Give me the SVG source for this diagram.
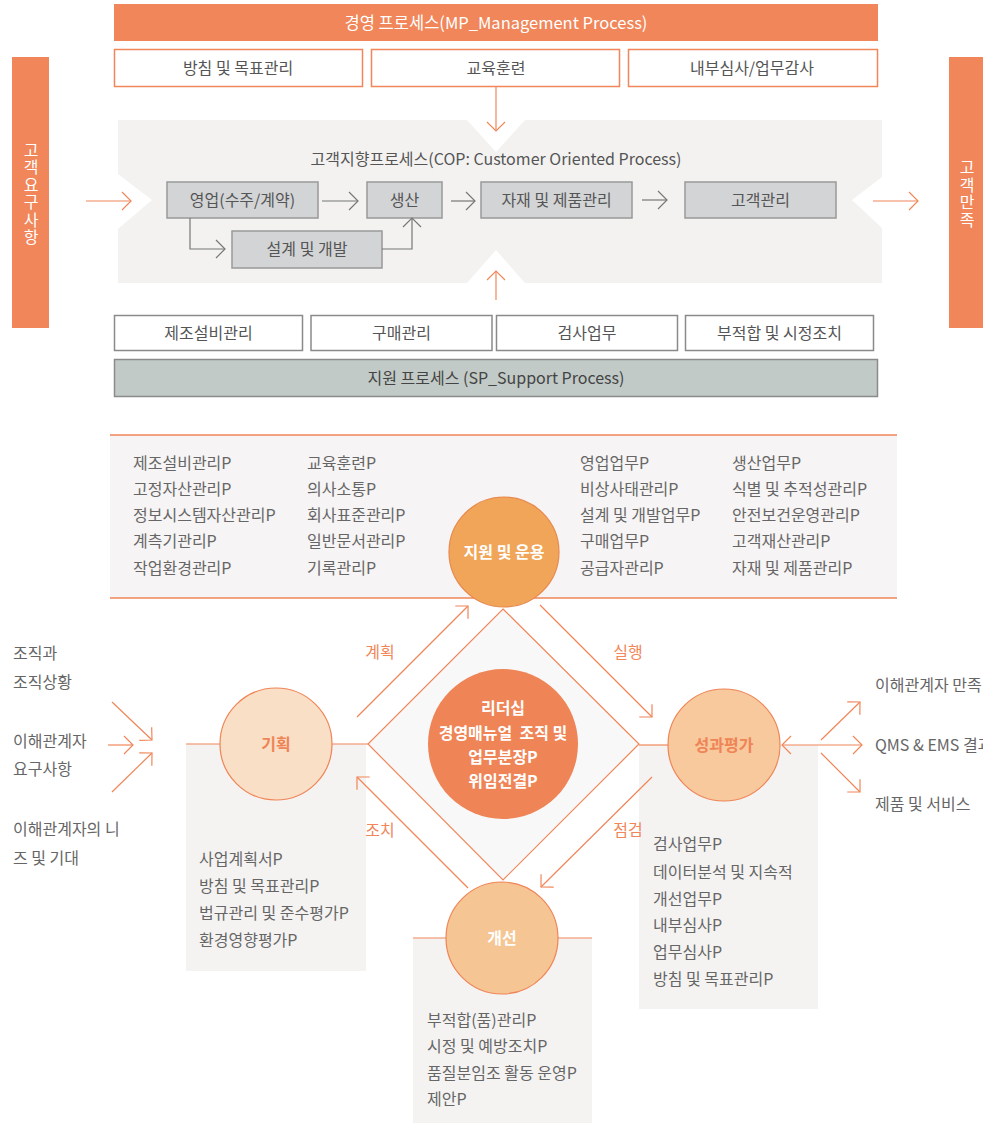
<svg xmlns="http://www.w3.org/2000/svg" width="983" height="1123" viewBox="0 0 983 1123">
<defs>
<style>
text{font-family:"Noto Sans CJK KR","Noto Sans",sans-serif;}
.t{font-size:16px;fill:#666;}
.tc{font-size:16px;fill:#555;text-anchor:middle;}
.w{font-size:17px;fill:#fff;text-anchor:middle;}
.v{font-size:16px;fill:#fff;text-anchor:middle;writing-mode:vertical-rl;letter-spacing:1.5px;}
.lbl{font-size:16px;fill:#f08659;text-anchor:middle;}
.cb{font-size:16px;font-weight:bold;text-anchor:middle;}
.obox{fill:#fff;stroke:#f08659;stroke-width:1.5;}
.gbox{fill:#fff;stroke:#8a8a8a;stroke-width:1.5;}
.cop{fill:#d3d4d6;stroke:#999;stroke-width:1.5;}
.oline{stroke:#f08659;stroke-width:1.2;fill:none;}
.gline{stroke:#777;stroke-width:1.2;fill:none;}
.panel{fill:#f4f3f2;}
</style>
<marker id="ao" viewBox="-12 -12 24 24" refX="0" refY="0" markerWidth="24" markerHeight="24" markerUnits="userSpaceOnUse" orient="auto-start-reverse">
<path d="M-9,-9 L0,0 L-9,9" fill="none" stroke="#f08659" stroke-width="1.2"/>
</marker>
<marker id="ag" viewBox="-12 -12 24 24" refX="0" refY="0" markerWidth="24" markerHeight="24" markerUnits="userSpaceOnUse" orient="auto">
<path d="M-9,-9 L0,0 L-9,9" fill="none" stroke="#777" stroke-width="1.2"/>
</marker>
</defs>

<!-- Top management process -->
<g id="mp-bar">
<rect x="114" y="4" width="764" height="37" fill="#f08659"/>
<text class="w" x="496" y="29" style="font-size:16.5px">경영 프로세스(MP_Management Process)</text>
</g>
<g id="mp-1"><rect class="obox" x="114.5" y="49.5" width="248" height="37"/><text class="tc" x="238" y="74">방침 및 목표관리</text></g>
<g id="mp-2"><rect class="obox" x="371.5" y="49.5" width="248" height="37"/><text class="tc" x="496" y="74">교육훈련</text></g>
<g id="mp-3"><rect class="obox" x="628.5" y="49.5" width="249" height="37"/><text class="tc" x="752" y="74">내부심사/업무감사</text></g>

<g id="customer-req">
<rect x="12" y="57" width="37" height="271" fill="#f08659"/>
<text class="v" x="31" y="194">고객요구사항</text>
</g>
<g id="customer-sat">
<rect x="949" y="57" width="34" height="271" fill="#f08659"/>
<text class="v" x="967" y="194">고객만족</text>
</g>

<g id="cop-region">
<path d="M118,120 L467,120 L496,152 L525,120 L882,120 L882,177 L852,200 L882,228 L882,283 L525,283 L496,250 L467,283 L118,283 L118,229 L152,200 L118,174 Z" fill="#f3f2f1"/>
<text class="tc" x="496" y="165">고객지향프로세스(COP: Customer Oriented Process)</text>
</g>
<g id="cop-sales"><rect class="cop" x="167" y="182" width="151" height="36"/><text class="tc" x="242.5" y="206">영업(수주/계약)</text></g>
<g id="cop-prod"><rect class="cop" x="367" y="182" width="75" height="36"/><text class="tc" x="404.5" y="206">생산</text></g>
<g id="cop-mat"><rect class="cop" x="481" y="182" width="151" height="36"/><text class="tc" x="556.5" y="206">자재 및 제품관리</text></g>
<g id="cop-cust"><rect class="cop" x="685" y="182" width="151" height="36"/><text class="tc" x="760.5" y="206">고객관리</text></g>
<g id="cop-design"><rect class="cop" x="232" y="231" width="150" height="37"/><text class="tc" x="307" y="255">설계 및 개발</text></g>

<!-- Support process -->
<g id="sp-1"><rect class="gbox" x="114.5" y="315.5" width="188" height="35"/><text class="tc" x="208.5" y="339">제조설비관리</text></g>
<g id="sp-2"><rect class="gbox" x="311" y="315.5" width="181" height="35"/><text class="tc" x="401.5" y="339">구매관리</text></g>
<g id="sp-3"><rect class="gbox" x="496.5" y="315.5" width="181" height="35"/><text class="tc" x="587" y="339">검사업무</text></g>
<g id="sp-4"><rect class="gbox" x="685.5" y="315.5" width="188" height="35"/><text class="tc" x="779.5" y="339">부적합 및 시정조치</text></g>
<g id="sp-bar"><rect x="114.5" y="359.5" width="763" height="37" fill="#c2cac7" stroke="#8a8a8a" stroke-width="1.5"/><text class="tc" x="496" y="384" style="fill:#444">지원 프로세스 (SP_Support Process)</text></g>

<!-- Middle panel -->
<g id="support-panel">
<rect x="110" y="435" width="787" height="163" fill="#f6f4f4"/>
<line x1="110" y1="435" x2="897" y2="435" stroke="#f08659" stroke-width="1.5"/>
<line x1="110" y1="598" x2="897" y2="598" stroke="#f08659" stroke-width="1.5"/>
<text class="t"><tspan x="133" y="469">제조설비관리P</tspan><tspan x="133" y="495">고정자산관리P</tspan><tspan x="133" y="521">정보시스템자산관리P</tspan><tspan x="133" y="547">계측기관리P</tspan><tspan x="133" y="574">작업환경관리P</tspan></text>
<text class="t"><tspan x="307" y="469">교육훈련P</tspan><tspan x="307" y="495">의사소통P</tspan><tspan x="307" y="521">회사표준관리P</tspan><tspan x="307" y="547">일반문서관리P</tspan><tspan x="307" y="574">기록관리P</tspan></text>
<text class="t"><tspan x="580" y="469">영업업무P</tspan><tspan x="580" y="495">비상사태관리P</tspan><tspan x="580" y="521">설계 및 개발업무P</tspan><tspan x="580" y="547">구매업무P</tspan><tspan x="580" y="574">공급자관리P</tspan></text>
<text class="t"><tspan x="732" y="469">생산업무P</tspan><tspan x="732" y="495">식별 및 추적성관리P</tspan><tspan x="732" y="521">안전보건운영관리P</tspan><tspan x="732" y="547">고객재산관리P</tspan><tspan x="732" y="574">자재 및 제품관리P</tspan></text>
</g>

<g id="plan-panel">
<rect class="panel" x="186" y="744" width="180" height="227"/>
<text class="t"><tspan x="199" y="865">사업계획서P</tspan><tspan x="199" y="892">방침 및 목표관리P</tspan><tspan x="199" y="919">법규관리 및 준수평가P</tspan><tspan x="199" y="946">환경영향평가P</tspan></text>
</g>
<g id="eval-panel">
<rect class="panel" x="639" y="745" width="179" height="264"/>
<text class="t"><tspan x="653" y="850">검사업무P</tspan><tspan x="653" y="878">데이터분석 및 지속적</tspan><tspan x="653" y="905">개선업무P</tspan><tspan x="653" y="931">내부심사P</tspan><tspan x="653" y="958">업무심사P</tspan><tspan x="653" y="985">방침 및 목표관리P</tspan></text>
</g>
<g id="improve-panel">
<rect class="panel" x="413" y="938" width="179" height="185"/>
<text class="t"><tspan x="427" y="1026">부적합(품)관리P</tspan><tspan x="427" y="1052">시정 및 예방조치P</tspan><tspan x="427" y="1079">품질분임조 활동 운영P</tspan><tspan x="427" y="1105">제안P</tspan></text>
</g>

<g id="diamond">
<path d="M503,609 L639,744 L503,880 L368,744 Z" fill="#f8f8f8" stroke="#f08659" stroke-width="1.2"/>
</g>

<g id="connectors">
<!-- top section -->
<line class="oline" x1="86" y1="201" x2="131" y2="201" marker-end="url(#ao)"/>
<line class="oline" x1="873" y1="201" x2="918" y2="201" marker-end="url(#ao)"/>
<line class="oline" x1="496" y1="87" x2="496" y2="131" marker-end="url(#ao)"/>
<line class="oline" x1="496" y1="300" x2="496" y2="271" marker-end="url(#ao)"/>
<line class="gline" x1="322" y1="201" x2="358" y2="201" marker-end="url(#ag)"/>
<line class="gline" x1="451" y1="201" x2="475" y2="201" marker-end="url(#ag)"/>
<line class="gline" x1="642" y1="200" x2="667" y2="200" marker-end="url(#ag)"/>
<polyline class="gline" points="190,218 190,249 225,249" marker-end="url(#ag)"/>
<polyline class="gline" points="382,249 412,249 412,218" marker-end="url(#ag)"/>
<!-- cycle -->
<line class="oline" x1="186" y1="744" x2="221" y2="744"/>
<line class="oline" x1="331" y1="744" x2="368" y2="744"/>
<line class="oline" x1="639" y1="745" x2="668" y2="745"/>
<line class="oline" x1="413" y1="938" x2="446" y2="938"/>
<line class="oline" x1="558" y1="938" x2="592" y2="938"/>
<line class="oline" x1="357" y1="717" x2="468" y2="606" marker-end="url(#ao)"/>
<line class="oline" x1="540" y1="605" x2="652" y2="717" marker-end="url(#ao)"/>
<line class="oline" x1="652" y1="777" x2="541" y2="887" marker-end="url(#ao)"/>
<line class="oline" x1="468" y1="888" x2="357" y2="777" marker-end="url(#ao)"/>
<!-- inputs -->
<line class="oline" x1="112" y1="702" x2="152" y2="740" marker-end="url(#ao)"/>
<line class="oline" x1="108" y1="745" x2="133" y2="745" marker-end="url(#ao)"/>
<line class="oline" x1="112" y1="792" x2="152" y2="753" marker-end="url(#ao)"/>
<!-- outputs -->
<line class="oline" x1="782" y1="745" x2="862" y2="745" marker-start="url(#ao)" marker-end="url(#ao)"/>
<line class="oline" x1="821" y1="740" x2="860" y2="702" marker-end="url(#ao)"/>
<line class="oline" x1="821" y1="753" x2="860" y2="792" marker-end="url(#ao)"/>
</g>

<g id="labels">
<text class="lbl" x="380" y="658">계획</text>
<text class="lbl" x="628" y="658">실행</text>
<text class="lbl" x="380" y="836">조치</text>
<text class="lbl" x="628" y="836">점검</text>
</g>

<g id="node-support">
<circle cx="504" cy="552" r="55" fill="#f0a558" stroke="#e8894e" stroke-width="1.2"/>
<text class="cb" x="504" y="558" fill="#fff">지원 및 운용</text>
</g>
<g id="node-leadership">
<circle cx="503" cy="744" r="75" fill="#ef8456"/>
<text class="cb" fill="#fff"><tspan x="503" y="714">리더십</tspan><tspan x="503" y="739">경영매뉴얼&#160; 조직 및</tspan><tspan x="503" y="763">업무분장P</tspan><tspan x="503" y="787">위임전결P</tspan></text>
</g>
<g id="node-plan">
<circle cx="276" cy="744" r="56" fill="#f9dfc6" stroke="#ef8456" stroke-width="1.2"/>
<text class="cb" x="276" y="750" fill="#ef8456">기획</text>
</g>
<g id="node-eval">
<circle cx="724" cy="745" r="56" fill="#f7c99d" stroke="#ef8456" stroke-width="1.2"/>
<text class="cb" x="724" y="751" fill="#ef8456">성과평가</text>
</g>
<g id="node-improve">
<circle cx="502" cy="938" r="56" fill="#f6c594" stroke="#ef8456" stroke-width="1.2"/>
<text class="cb" x="502" y="944" fill="#fff">개선</text>
</g>

<g id="inputs">
<text class="t"><tspan x="13" y="659">조직과</tspan><tspan x="13" y="688">조직상황</tspan></text>
<text class="t"><tspan x="13" y="747">이해관계자</tspan><tspan x="13" y="775">요구사항</tspan></text>
<text class="t"><tspan x="13" y="835">이해관계자의 니</tspan><tspan x="13" y="864">즈 및 기대</tspan></text>
</g>
<g id="outputs">
<text class="t" x="875" y="691">이해관계자 만족</text>
<text class="t" x="875" y="751">QMS &amp; EMS 결과</text>
<text class="t" x="875" y="810">제품 및 서비스</text>
</g>
</svg>
